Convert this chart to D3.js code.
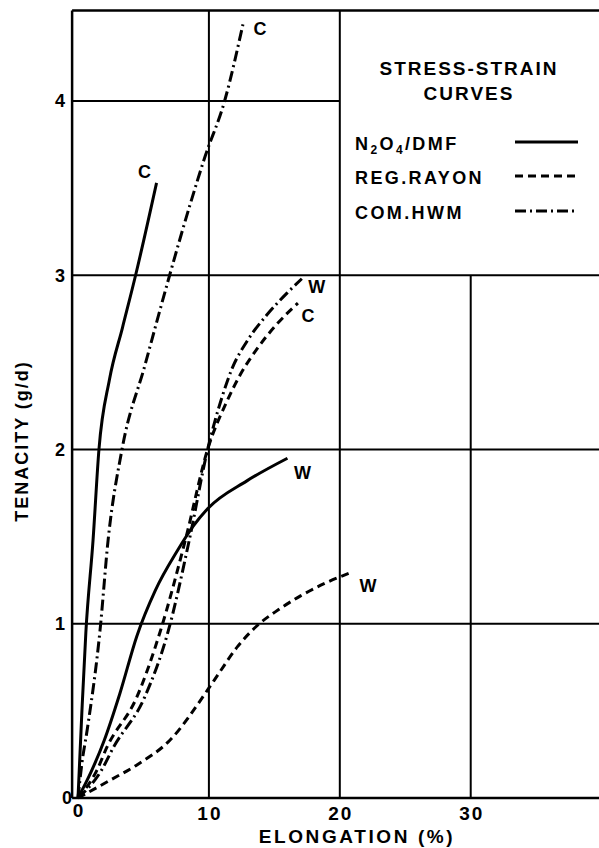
<!DOCTYPE html>
<html>
<head>
<meta charset="utf-8">
<script src="https://cdn.jsdelivr.net/npm/d3@7"></script>
<style>
  body { margin: 0; background: #fff; }
  svg text { font-family: "Liberation Sans", Arial, sans-serif; font-weight: bold; fill: #000; }
</style>
</head>
<body>
<div id="chart"></div>
<script>
// tick values
const xTicks = [0, 10, 20, 30];
const yTicks = [0, 1, 2, 3, 4];

// curves: [elongation %, tenacity g/d]
const dmfC = [[0,0],[0.3,0.5],[0.6,0.95],[1.15,1.48],[1.6,2.0],[2.4,2.4],[3.4,2.7],[4.4,3.0],[6.0,3.53]];
const dmfW = [[0,0],[1.0,0.15],[2.0,0.33],[3.2,0.6],[4.5,0.93],[5.9,1.19],[7.6,1.42],[8.8,1.56],[9.9,1.66],[12.9,1.82],[16.0,1.95]];
const rayonC = [[0,0],[1.45,0.16],[2.2,0.29],[4.5,0.58],[6.3,0.96],[8.2,1.48],[9.9,2.0],[11.4,2.28],[12.4,2.43],[13.7,2.58],[15.2,2.72],[16.8,2.84]];
const rayonW = [[0,0],[2.4,0.1],[4.5,0.19],[7.0,0.33],[9.9,0.62],[10.8,0.72],[12.2,0.87],[13.7,0.99],[15.3,1.08],[17.0,1.16],[18.8,1.23],[20.7,1.29]];
const hwmC = [[0,0],[0.3,0.2],[0.7,0.39],[1.68,0.96],[2.3,1.48],[3.36,2.0],[5.1,2.48],[7.0,3.0],[8.5,3.39],[9.7,3.68],[11.2,4.0],[12.6,4.44]];
const hwmW = [[0,0],[1.8,0.16],[2.7,0.29],[5.1,0.58],[6.9,0.96],[8.5,1.48],[9.9,2.0],[11.0,2.3],[11.8,2.47],[12.9,2.62],[14.4,2.77],[16.0,2.9],[17.1,2.98]];

const legendItems = ["N2O4/DMF", "REG.RAYON", "COM.HWM"];

const dashes = { solid: null, dashed: "8,5", dashdot: "11,4,2,4" };

const series = [
  { data: dmfC,   style: "solid",   label: "C", dx: -12, dy: -11 },
  { data: dmfW,   style: "solid",   label: "W", dx: 15,  dy: 14 },
  { data: rayonC, style: "dashed",  label: "C", dx: 10,  dy: 12 },
  { data: rayonW, style: "dashed",  label: "W", dx: 19,  dy: 12 },
  { data: hwmC,   style: "dashdot", label: "C", dx: 17,  dy: 4 },
  { data: hwmW,   style: "dashdot", label: "W", dx: 15,  dy: 8 }
];

const width = 599, height = 848;

const svg = d3.select("#chart").append("svg")
  .attr("width", width)
  .attr("height", height);

const x = d3.scaleLinear().domain([0, 39.8]).range([78, 599]);
const y = d3.scaleLinear().domain([0, 4.52]).range([798, 798 - 4.52 * 174.25]);

const left = x(-0.45), right = width;

// frame
svg.append("line")
  .attr("x1", left).attr("x2", left)
  .attr("y1", y(4.52)).attr("y2", y(0))
  .attr("stroke", "#000").attr("stroke-width", 2.5);
svg.append("line")
  .attr("x1", left).attr("x2", right)
  .attr("y1", y(0)).attr("y2", y(0))
  .attr("stroke", "#000").attr("stroke-width", 2.5);
svg.append("line")
  .attr("x1", left).attr("x2", right)
  .attr("y1", y(4.52)).attr("y2", y(4.52))
  .attr("stroke", "#000").attr("stroke-width", 2.5);

// grid (the legend box keeps the upper right corner free)
svg.append("g")
  .selectAll("line")
  .data(yTicks.filter(d => d > 0))
  .join("line")
  .attr("x1", left)
  .attr("x2", d => d >= 4 ? x(20) : right)
  .attr("y1", d => y(d))
  .attr("y2", d => y(d))
  .attr("stroke", "#000")
  .attr("stroke-width", 2);

svg.append("g")
  .selectAll("line")
  .data(xTicks.filter(d => d > 0))
  .join("line")
  .attr("x1", d => x(d))
  .attr("x2", d => x(d))
  .attr("y1", d => d >= 30 ? y(3) : y(4.52))
  .attr("y2", y(0))
  .attr("stroke", "#000")
  .attr("stroke-width", 2);

// tick labels
svg.append("g")
  .selectAll("text")
  .data(xTicks)
  .join("text")
  .attr("x", d => x(d) + 1)
  .attr("y", d => d === 0 ? 817 : 820)
  .attr("text-anchor", "middle")
  .style("font-size", "19px")
  .style("letter-spacing", "2px")
  .text(d => d);

svg.append("g")
  .selectAll("text")
  .data(yTicks)
  .join("text")
  .attr("x", d => d === 0 ? 72 : 65)
  .attr("y", d => y(d))
  .attr("dy", "0.36em")
  .attr("text-anchor", "end")
  .style("font-size", "18px")
  .text(d => d);

// axis titles
svg.append("text")
  .attr("x", 357)
  .attr("y", 843)
  .attr("text-anchor", "middle")
  .style("font-size", "19px")
  .style("letter-spacing", "2.6px")
  .text("ELONGATION (%)");

svg.append("text")
  .attr("transform", "translate(28,441) rotate(-90)")
  .attr("text-anchor", "middle")
  .style("font-size", "18px")
  .style("letter-spacing", "2px")
  .text("TENACITY (g/d)");

// curves
const line = d3.line()
  .x(d => x(d[0]))
  .y(d => y(d[1]))
  .curve(d3.curveMonotoneX);

svg.append("g")
  .selectAll("path")
  .data(series)
  .join("path")
  .attr("d", d => line(d.data))
  .attr("fill", "none")
  .attr("stroke", "#000")
  .attr("stroke-width", 3)
  .attr("stroke-dasharray", d => dashes[d.style]);

svg.append("g")
  .selectAll("text")
  .data(series)
  .join("text")
  .attr("x", d => x(d.data[d.data.length - 1][0]) + d.dx)
  .attr("y", d => y(d.data[d.data.length - 1][1]) + d.dy)
  .attr("dy", "0.36em")
  .attr("text-anchor", "middle")
  .style("font-size", "18px")
  .text(d => d.label);

// legend
const legend = svg.append("g");
legend.append("text")
  .attr("x", 469).attr("y", 75)
  .attr("text-anchor", "middle")
  .style("font-size", "19px")
  .style("letter-spacing", "2px")
  .text("STRESS-STRAIN");
legend.append("text")
  .attr("x", 469).attr("y", 100)
  .attr("text-anchor", "middle")
  .style("font-size", "19px")
  .style("letter-spacing", "2px")
  .text("CURVES");

const rowY = [142, 176, 211];
const styles = ["solid", "dashed", "dashdot"];

legendItems.forEach((name, i) => {
  const t = legend.append("text")
    .attr("x", 355)
    .attr("y", rowY[i] + 8)
    .style("font-size", "18px")
    .style("letter-spacing", "2.4px");
  if (name === "N2O4/DMF") {
    t.append("tspan").text("N");
    t.append("tspan").attr("dy", 4).style("font-size", "12px").text("2");
    t.append("tspan").attr("dy", -4).text("O");
    t.append("tspan").attr("dy", 4).style("font-size", "12px").text("4");
    t.append("tspan").attr("dy", -4).text("/DMF");
  } else {
    t.text(name);
  }
  legend.append("line")
    .attr("x1", 515).attr("x2", 578)
    .attr("y1", rowY[i]).attr("y2", rowY[i])
    .attr("stroke", "#000")
    .attr("stroke-width", 3)
    .attr("stroke-dasharray", dashes[styles[i]]);
});
</script>
</body>
</html>
